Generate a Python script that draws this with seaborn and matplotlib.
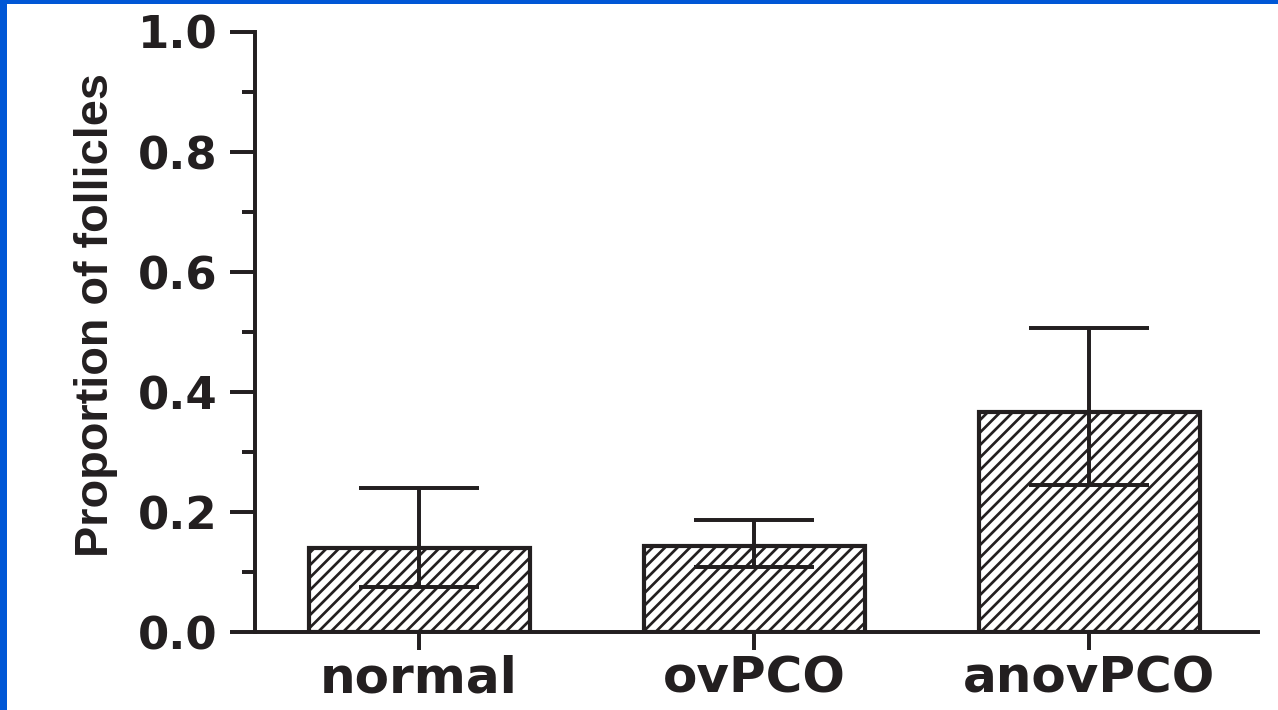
import matplotlib
matplotlib.use("Agg")
import matplotlib.pyplot as plt
import matplotlib.font_manager as fm
from matplotlib.patches import Rectangle
from matplotlib.ticker import MultipleLocator, FormatStrFormatter
import numpy as np
import pandas as pd
import seaborn as sns

# values
groups = ["normal", "ovPCO", "anovPCO"]
means = [0.14, 0.143, 0.367]
err_low = [0.075, 0.108, 0.245]
err_high = [0.24, 0.186, 0.507]

df = pd.DataFrame({"group": groups, "proportion": means})

ink = "#231f20"
blue = "#0057d6"

sns.set_theme(style="ticks")
plt.rcParams["font.family"] = ["DejaVu Sans"]
plt.rcParams["font.weight"] = "bold"
plt.rcParams["hatch.linewidth"] = 1.3

# narrow font for the y label if we have one
try:
    fm.findfont(fm.FontProperties(family="Liberation Sans Narrow"), fallback_to_default=False)
    ylab_family, ylab_size = "Liberation Sans Narrow", 27.5
except Exception:
    ylab_family, ylab_size = "Liberation Sans", 22.5

fig = plt.figure(figsize=(1278 / 150, 710 / 150), dpi=150)
ax = fig.add_axes([255 / 1278, 1 - 632 / 710, 1003 / 1278, 600 / 710])

sns.barplot(data=df, x="group", y="proportion", ax=ax, color="white",
            edgecolor=ink, linewidth=2.0, width=0.66, errorbar=None,
            hatch="////", zorder=2)

m = np.array(means)
yerr = [m - np.array(err_low), np.array(err_high) - m]
ax.errorbar(range(len(groups)), means, yerr=yerr, fmt="none", ecolor=ink,
            elinewidth=1.9, capsize=29, capthick=1.9, zorder=3)

ax.set_xlim(-0.49, 2.504)
ax.set_ylim(0, 1)
ax.yaxis.set_major_locator(MultipleLocator(0.2))
ax.yaxis.set_minor_locator(MultipleLocator(0.1))
ax.yaxis.set_major_formatter(FormatStrFormatter("%.1f"))

ax.tick_params(axis="y", which="major", length=12, width=1.9, pad=5.8,
               labelsize=21.6, color=ink, labelcolor=ink)
ax.tick_params(axis="y", which="minor", length=6.2, width=1.9, color=ink)
ax.tick_params(axis="x", length=8.6, width=1.9, pad=2, labelsize=24,
               color=ink, labelcolor=ink)

for s in ["top", "right"]:
    ax.spines[s].set_visible(False)
for s in ["left", "bottom"]:
    ax.spines[s].set_linewidth(1.9)
    ax.spines[s].set_color(ink)
ax.spines["left"].set_bounds(0, 1)

ax.set_xlabel("")
ax.set_ylabel("Proportion of follicles", family=ylab_family, size=ylab_size,
              weight="bold", color=ink)
ax.yaxis.set_label_coords((118 - 255) / 1003, (632 - 315) / 600)

# blue frame strips at top and left
fig.add_artist(Rectangle((0, 1 - 4 / 710), 1, 4 / 710, transform=fig.transFigure,
                         color=blue, lw=0))
fig.add_artist(Rectangle((0, 0), 7 / 1278, 1, transform=fig.transFigure,
                         color=blue, lw=0))

fig.savefig("out.png", dpi=150)
